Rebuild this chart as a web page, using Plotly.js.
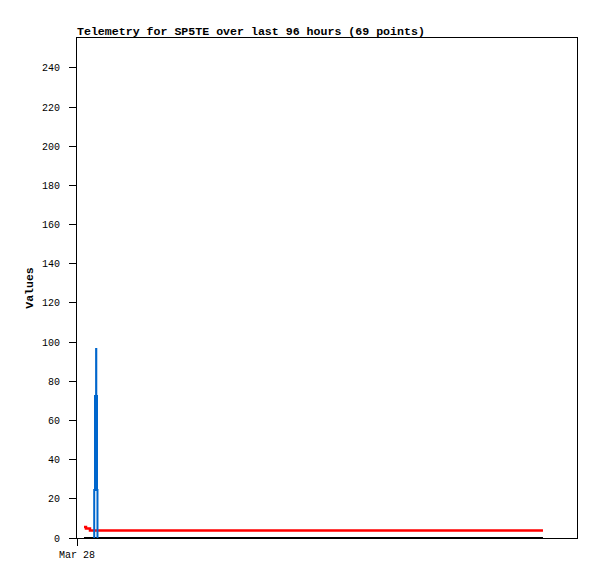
<!DOCTYPE html>
<html><head><meta charset="utf-8">
<script src="https://cdn.plot.ly/plotly-3.0.1.min.js"></script>
<style>html,body{margin:0;padding:0;background:#fff}#chart{width:597px;height:579px}</style>
</head><body><div id="chart"></div>
<script>
const title = "Telemetry for SP5TE over last 96 hours (69 points)";
const yLabel = "Values";
const xTickVals = ["2024-03-28 00:00"];
const xTickText = ["Mar 28"];

const blueTimes = ["2024-03-28 03:27","2024-03-28 03:36","2024-03-28 03:46","2024-03-28 04:00","2024-03-28 04:02","2024-03-28 04:11","2024-03-28 04:17"];
const blueValues = [0, 24.5, 72.5, 96.5, 72.5, 24.5, 0];

const redTimes = ["2024-03-28 01:28","2024-03-28 01:53","2024-03-28 02:43","2024-04-01 01:28"];
const redValues = [5.6, 4.9, 3.85, 3.85];

const blackTimes = ["2024-03-28 01:28","2024-04-01 01:28"];
const blackValues = [0, 0];

const traces = [
  {x: blackTimes, y: blackValues, mode: "lines", line: {color: "#000000", width: 2, shape: "hv"}, hoverinfo: "skip"},
  {x: redTimes, y: redValues, mode: "lines", line: {color: "#ff0000", width: 2.5, shape: "hv"}, hoverinfo: "skip"},
  {x: blueTimes, y: blueValues, mode: "lines", line: {color: "#0066cc", width: 2, shape: "hv"}, hoverinfo: "skip"}
];

const font = "'Liberation Mono', 'DejaVu Sans Mono', monospace";
const layout = {
  width: 597, height: 579,
  margin: {l: 77, r: 20, t: 38, b: 41, pad: 0},
  paper_bgcolor: "#ffffff", plot_bgcolor: "#ffffff",
  showlegend: false,
  font: {family: font, size: 10, color: "#000000"},
  title: {text: "<b>" + title + "</b>", font: {family: font, size: 11.6, color: "#000000"},
          xref: "paper", yref: "paper", x: 0, xanchor: "left", y: 1, yanchor: "bottom", pad: {b: 3}},
  xaxis: {
    type: "date",
    range: ["2024-03-28 00:00", "2024-04-01 08:35"],
    tickvals: xTickVals, ticktext: xTickText,
    ticks: "outside", ticklen: 7, tickwidth: 1, tickcolor: "#000",
    showgrid: false, zeroline: false,
    showline: true, linecolor: "#000", linewidth: 1, mirror: true,
    tickfont: {family: font, size: 10, color: "#000"}
  },
  yaxis: {
    range: [0, 255.3],
    tickmode: "linear", tick0: 0, dtick: 20,
    ticks: "outside", ticklen: 7, tickwidth: 1, tickcolor: "#000",
    ticklabelstandoff: 7,
    showgrid: false, zeroline: false,
    showline: true, linecolor: "#000", linewidth: 1, mirror: true,
    tickfont: {family: font, size: 10, color: "#000"},
    title: {text: "<b>" + yLabel + "</b>", font: {family: font, size: 11.5, color: "#000"}, standoff: 5}
  }
};
Plotly.newPlot("chart", traces, layout, {staticPlot: true, displayModeBar: false});
</script></body></html>
